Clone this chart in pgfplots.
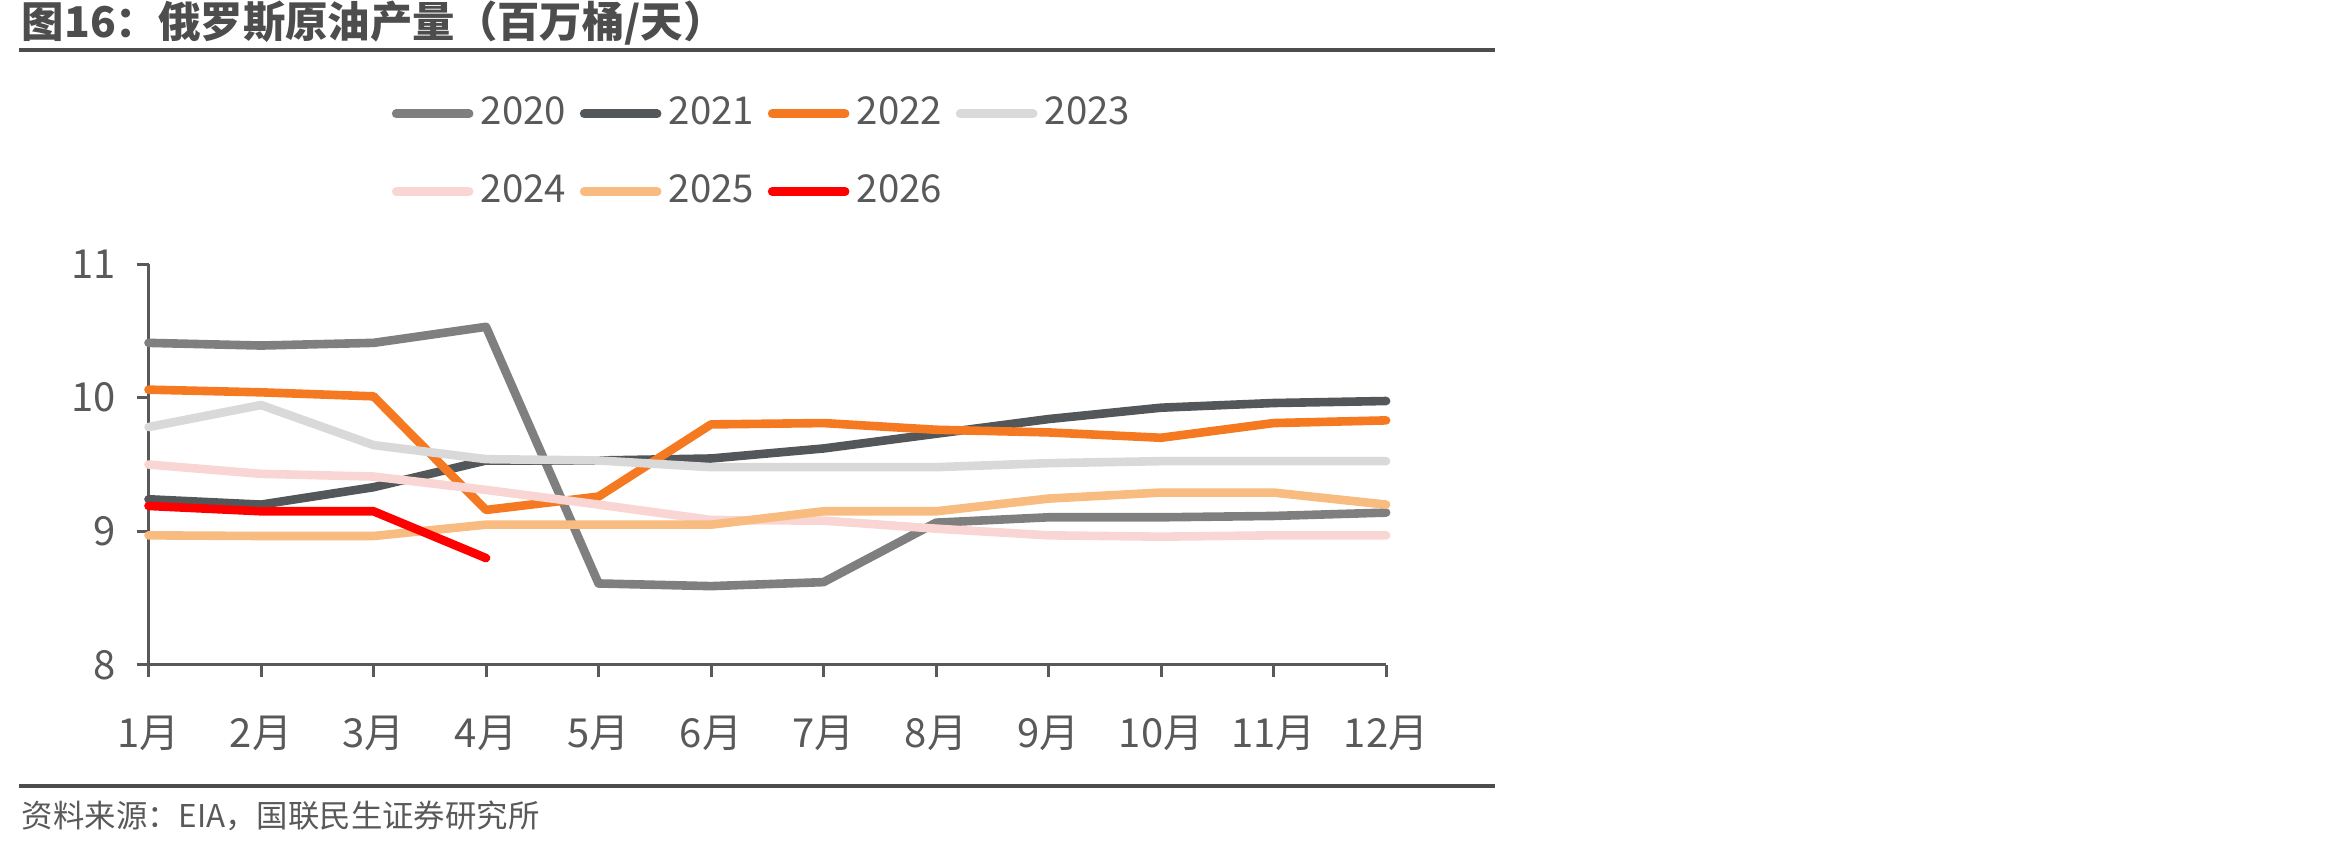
\documentclass[border=0pt]{standalone}
\usepackage{fontspec}
\setmainfont{Noto Sans CJK SC}
\usepackage{pgfplots}
\pgfplotsset{compat=1.18}

\definecolor{c2020}{HTML}{7F7F7F}
\definecolor{c2021}{HTML}{53575A}
\definecolor{c2022}{HTML}{F47920}
\definecolor{c2023}{HTML}{D9D9D9}
\definecolor{c2024}{HTML}{F9D5D3}
\definecolor{c2025}{HTML}{F8BB80}
\definecolor{c2026}{HTML}{FF0000}
\definecolor{txt}{HTML}{595959}
\definecolor{rulec}{HTML}{4D4D4D}

\begin{document}
\begin{tikzpicture}[x=0.25pt,y=0.25pt]
\useasboundingbox (0,0) rectangle (2328,846);

% title and rules
\node[anchor=base west, inner sep=0pt, text=rulec,
      font=\fontsize{10.6}{12}\selectfont\bfseries] at (21,808)
      {图16：俄罗斯原油产量（百万桶/天）};
\draw[rulec, line width=1pt] (19,796) -- (1495,796);
\draw[rulec, line width=0.9pt] (19,60) -- (1495,60);
\node[anchor=base west, inner sep=0pt, text=txt,
      font=\fontsize{7.85}{10}\selectfont] at (21,18)
      {资料来源：EIA，国联民生证券研究所};

\begin{axis}[
  at={(37.125pt,45.25pt)}, anchor=south west,
  scale only axis, width=309.4pt, height=100.25pt,
  xmin=1, xmax=12, ymin=8, ymax=11,
  axis x line*=bottom, axis y line*=left,
  axis line style={txt, line width=0.75pt, -},
  xtick={1,...,12},
  xticklabels={1月,2月,3月,4月,5月,6月,7月,8月,9月,10月,11月,12月},
  ytick={8,9,10,11},
  yticklabels={8,9,10,11},
  tick align=outside, major tick length=3pt,
  tick style={txt, line width=0.75pt},
  tick label style={text=txt, font=\fontsize{10}{12}\selectfont},
  xticklabel style={yshift=-6.3pt},
  yticklabel style={xshift=-1.7pt},
  /pgf/number format/assume math mode=true,
  clip=false,
  every axis plot/.append style={line width=2.15pt, line cap=round, line join=round, mark=none},
  legend columns=4,
  legend style={at={(0.196,1)}, anchor=north west, yshift=44pt,
    draw=none, fill=none, inner sep=0pt, row sep=7pt, column sep=0pt,
    font=\fontsize{9.6}{11}\selectfont, text=txt,
    nodes={inner xsep=1.85pt, text width=22.9pt, align=left}},
  legend image code/.code={\draw[#1, line cap=round] (1.075pt,0pt) -- (19.325pt,0pt);},
]
\addplot[c2020] coordinates {(1,10.41) (2,10.39) (3,10.41) (4,10.53) (5,8.61) (6,8.59) (7,8.62) (8,9.065) (9,9.105) (10,9.105) (11,9.115) (12,9.14)};
\addlegendentry{2020}
\addplot[c2021] coordinates {(1,9.24) (2,9.20) (3,9.33) (4,9.53) (5,9.53) (6,9.545) (7,9.62) (8,9.73) (9,9.84) (10,9.925) (11,9.96) (12,9.975)};
\addlegendentry{2021}
\addplot[c2022] coordinates {(1,10.06) (2,10.04) (3,10.01) (4,9.16) (5,9.26) (6,9.80) (7,9.81) (8,9.76) (9,9.74) (10,9.70) (11,9.81) (12,9.83)};
\addlegendentry{2022}
\addplot[c2023] coordinates {(1,9.78) (2,9.945) (3,9.645) (4,9.54) (5,9.53) (6,9.48) (7,9.48) (8,9.48) (9,9.51) (10,9.525) (11,9.525) (12,9.525)};
\addlegendentry{2023}
\addplot[c2024] coordinates {(1,9.50) (2,9.43) (3,9.41) (4,9.31) (5,9.20) (6,9.085) (7,9.08) (8,9.02) (9,8.97) (10,8.96) (11,8.97) (12,8.97)};
\addlegendentry{2024}
\addplot[c2025] coordinates {(1,8.97) (2,8.965) (3,8.965) (4,9.05) (5,9.05) (6,9.05) (7,9.15) (8,9.15) (9,9.245) (10,9.29) (11,9.29) (12,9.20)};
\addlegendentry{2025}
\addplot[c2026] coordinates {(1,9.19) (2,9.15) (3,9.15) (4,8.80)};
\addlegendentry{2026}
\end{axis}
\end{tikzpicture}
\end{document}
